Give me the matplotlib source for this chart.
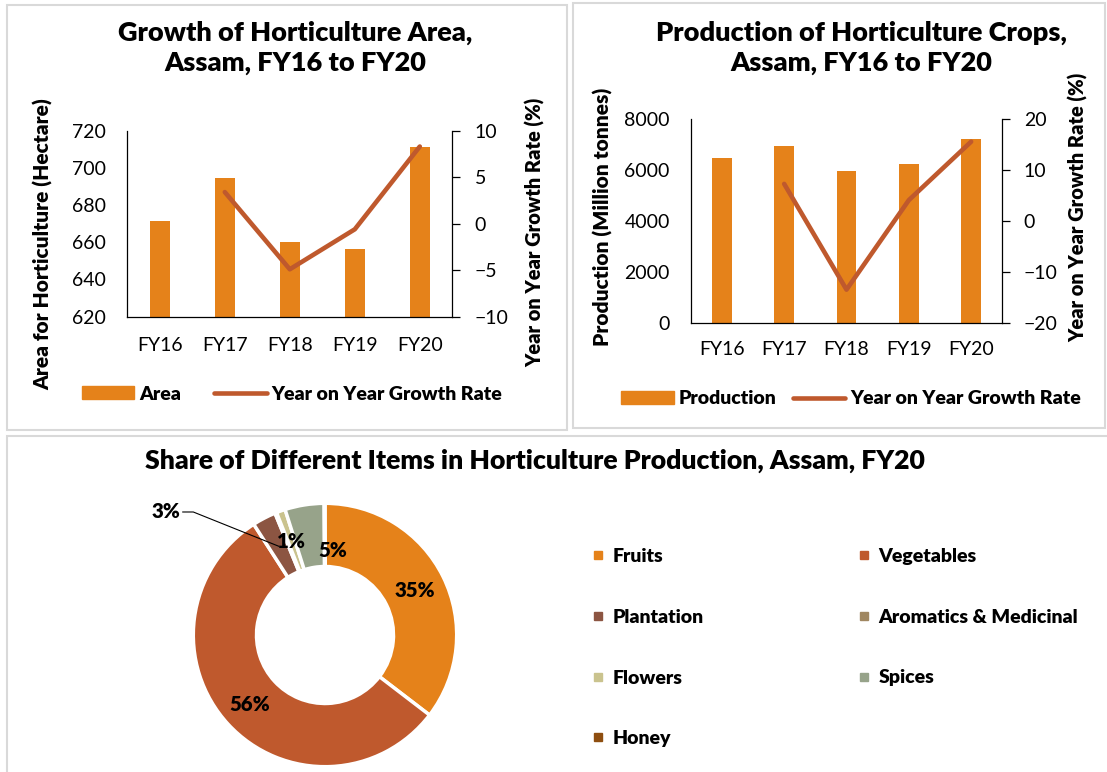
import numpy as np
import matplotlib.pyplot as plt
from matplotlib.patches import Rectangle, Patch
from matplotlib.lines import Line2D

plt.rcParams['font.family'] = ['Lato', 'DejaVu Sans']

years = ["FY16", "FY17", "FY18", "FY19", "FY20"]
area = [671.6, 694.5, 660.3, 656.5, 711.2]
area_growth = [np.nan, 3.4, -4.9, -0.6, 8.3]
production = [6468, 6939, 5984, 6232, 7214]
prod_growth = [np.nan, 7.3, -13.5, 4.1, 15.6]

items = ["Fruits", "Vegetables", "Plantation", "Aromatics & Medicinal",
         "Flowers", "Spices", "Honey"]
shares = [35.4, 55.5, 2.9, 0.2, 1.1, 4.8, 0.1]
item_colors = ["#E5821A", "#BF592D", "#8C5542", "#A08761",
               "#CAC38E", "#97A38A", "#8E4E10"]

BAR = "#E5821A"
LINE = "#BF592D"
BOLD = "heavy"
W, H = 1107, 772

fig = plt.figure(figsize=(W / 100, H / 100), dpi=100)


def px(x0, y0, x1, y1):
    # pixel box (top-left origin) -> figure fraction rect
    return [x0 / W, 1 - y1 / H, (x1 - x0) / W, (y1 - y0) / H]


# panel borders
for (x0, y0, x1, y1) in [(7.3, 5, 567.3, 430), (573.3, 3, 1105, 428), (7.3, 436, 1112, 778)]:
    fig.patches.append(Rectangle((x0 / W, 1 - y1 / H), (x1 - x0) / W, (y1 - y0) / H,
                                 transform=fig.transFigure, fill=False,
                                 edgecolor="#D9D9D9", lw=1.5))

TICK = 14


def combo(rect, vals, growth, ylim, yticks, glim, gticks, xpad, lpad, rpad):
    ax = fig.add_axes(rect)
    x = np.arange(len(years))
    ax.bar(x, vals, width=0.315, color=BAR, zorder=2)
    ax.set_xlim(-0.5, len(years) - 0.5)
    ax.set_ylim(*ylim)
    ax.set_yticks(yticks)
    ax.set_xticks(x, years)
    for s in ["top", "right"]:
        ax.spines[s].set_visible(False)
    for s in ["left", "bottom"]:
        ax.spines[s].set_color("black")
        ax.spines[s].set_linewidth(0.9)
    ax.tick_params(axis="x", length=0, pad=xpad, labelsize=TICK)
    ax.tick_params(axis="y", length=0, pad=lpad, labelsize=TICK)

    axr = ax.twinx()
    axr.plot(x, growth, color=LINE, lw=3.3, solid_capstyle="round", zorder=3)
    axr.set_ylim(*glim)
    axr.set_yticks(gticks)
    for s in ["top", "left", "bottom"]:
        axr.spines[s].set_visible(False)
    axr.spines["right"].set_color("black")
    axr.spines["right"].set_linewidth(0.9)
    axr.tick_params(axis="y", length=6, width=0.9, pad=rpad, labelsize=TICK)
    return ax


ax1 = combo(px(127.3, 130.7, 452.3, 316.7), area, area_growth, (620, 720),
            np.arange(620, 721, 20), (-10, 10), np.arange(-10, 11, 5), 14.5, 15.5, 10)
ax2 = combo(px(690.7, 119.3, 1002.3, 322.7), production, prod_growth, (0, 8000),
            np.arange(0, 8001, 2000), (-20, 20), np.arange(-20, 21, 10), 13.5, 15, 9.5)

# titles
ttl = dict(ha="center", va="center", fontweight=BOLD, linespacing=1.3)
fig.text(295 / W, 1 - 48 / H, "Growth of Horticulture Area,\nAssam, FY16 to FY20",
         fontsize=19.5, **ttl)
fig.text(861 / W, 1 - 48 / H, "Production of Horticulture Crops,\nAssam, FY16 to FY20",
         fontsize=19.5, **ttl)
fig.text(535 / W, 1 - 461 / H,
         "Share of Different Items in Horticulture Production, Assam, FY20",
         fontsize=19.2, **ttl)

# axis titles
lab = dict(rotation=90, ha="center", va="center", fontweight=BOLD)
fig.text(43 / W, 1 - 244 / H, "Area for Horticulture (Hectare)", fontsize=15, **lab)
fig.text(535 / W, 1 - 232 / H, "Year on Year Growth Rate (%)", fontsize=14.4, **lab)
fig.text(603 / W, 1 - 217 / H, "Production (Million tonnes)", fontsize=15, **lab)
fig.text(1078 / W, 1 - 207 / H, "Year on Year Growth Rate (%)", fontsize=14.4, **lab)

# legends for the combo charts
leg_kw = dict(frameon=False, ncol=2, loc="center", bbox_transform=fig.transFigure,
              prop={"weight": BOLD, "size": 14}, handlelength=2.7,
              handleheight=0.67, handletextpad=0.26)
h_line = Line2D([], [], color=LINE, lw=3.3, solid_capstyle="round")
ax1.legend([Patch(color=BAR), h_line], ["Area", "Year on Year Growth Rate"],
           bbox_to_anchor=(292 / W, 1 - 394 / H), columnspacing=1.7, **leg_kw)
ax2.legend([Patch(color=BAR), h_line], ["Production", "Year on Year Growth Rate"],
           bbox_to_anchor=(851 / W, 1 - 399 / H), columnspacing=0.83, **leg_kw)

# donut
R_PX = 131.7
axp = fig.add_axes(px(325 - 150, 635 - 150, 325 + 150, 635 + 150))
lim = 150 / R_PX
wedges, _ = axp.pie(shares, colors=item_colors, startangle=90, counterclock=False,
                    radius=1, wedgeprops=dict(width=0.48, edgecolor="white", linewidth=2.5))
axp.set_xlim(-lim, lim)
axp.set_ylim(-lim, lim)
axp.set_aspect("equal")
axp.axis("off")

PCT = 14.7
label_r = {"Fruits": 0.76, "Vegetables": 0.78, "Flowers": 0.75}
for w, name, v in zip(wedges, items, shares):
    mid = np.deg2rad((w.theta1 + w.theta2) / 2)
    txt = f"{v:.0f}%"
    if name in label_r:
        r = label_r[name]
        axp.text(r * np.cos(mid), r * np.sin(mid), txt, ha="center", va="center",
                 fontsize=PCT, fontweight=BOLD)
    elif name == "Spices":
        # label nudged to the right of its slice, as in the source chart
        axp.text(0.06, 0.64, txt, ha="center", va="center",
                 fontsize=PCT, fontweight=BOLD)
    elif name == "Plantation":
        ex, ey = 0.76 * np.cos(mid), 0.76 * np.sin(mid)
        axp.plot([-1.08, -1.0, ex], [0.934, 0.934, ey], color="black", lw=0.8)
        axp.text(-1.10, 0.934, txt, ha="right", va="center",
                 fontsize=PCT, fontweight=BOLD)

order = [0, 2, 4, 6, 1, 3, 5]
handles = [Line2D([], [], marker="s", ls="none", markersize=6,
                  markerfacecolor=item_colors[i], markeredgecolor=item_colors[i]) for i in order]
fig.legend(handles, [items[i] for i in order], ncol=2, frameon=False,
           loc="upper left", bbox_to_anchor=(591 / W, 1 - 548 / H),
           prop={"weight": BOLD, "size": 14}, handlelength=0.7,
           handletextpad=0.4, labelspacing=2.25, columnspacing=7.9,
           borderpad=0, borderaxespad=0)

plt.savefig("out.png", dpi=100)
